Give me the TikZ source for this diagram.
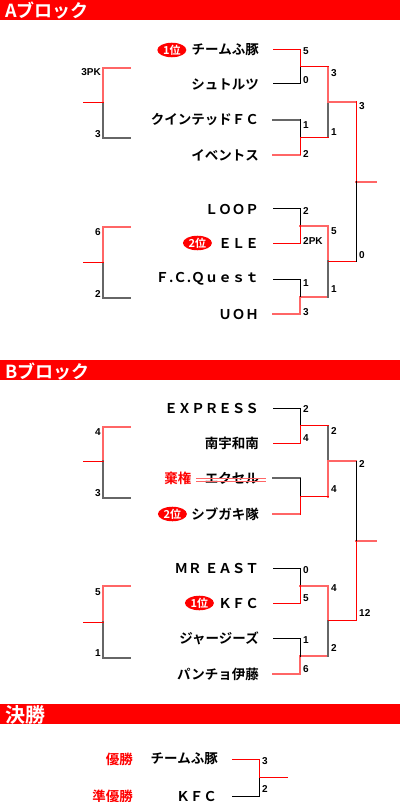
\documentclass[tikz,border=0pt]{standalone}
\usepackage{fontspec}
\usetikzlibrary{positioning,shapes.geometric}
\newfontfamily\jp{Noto Sans CJK JP}[BoldFont={Noto Sans CJK JP Bold}]
\newfontfamily\num{Liberation Sans}

\definecolor{cred}{RGB}{255,0,0}
\definecolor{cpink}{RGB}{255,102,102}
\definecolor{cgray}{RGB}{102,102,102}

\begin{document}
\begin{tikzpicture}[x=1pt,y=-1pt,line cap=rect,
        team/.style={anchor=east,inner sep=0pt,font={\jp\bfseries\fontsize{13.5}{14}\selectfont}},
        head/.style={anchor=base west,inner sep=0pt,text=white,font={\jp\bfseries\fontsize{18}{20}\selectfont}},
        rank/.style={ellipse,fill=cred,text=white,inner sep=0pt,minimum width=29pt,minimum height=14pt,
          font={\jp\bfseries\fontsize{11}{11}\selectfont}},
        score/.style={anchor=west,inner sep=0pt,font={\num\bfseries\fontsize{10}{10}\selectfont}},
        lscore/.style={score,anchor=east},
        wt/.style={draw=cred,line width=1pt},
        lt/.style={draw=black,line width=1pt},
        wk/.style={draw=cpink,line width=2pt},
        lk/.style={draw=cgray,line width=2pt}]
      \useasboundingbox (0,0) rectangle (400,802);
      \fill[cred] (0,0) rectangle (400,20);
      \fill[cred] (0,360) rectangle (400,380);
      \fill[cred] (0,704) rectangle (400,724);
      \node[head] (hA) at (5,18) {Aブロック};
      \node[head] (hB) at (5,378) {Bブロック};
      \node[head,font={\jp\bfseries\fontsize{20}{20}\selectfont}] (hF) at (5,722) {決勝};

      \foreach \n/\y/\t in {a1/50/チームふ豚, a2/84/シュトルツ, a3/120/クインテッドＦＣ, a4/155/イベントス,
          a5/209/ＬＯＯＰ, a6/243/ＥＬＥ, a7/279/Ｆ.Ｃ.Ｑｕｅｓｔ, a8/314/ＵＯＨ,
          b1/408/ＥＸＰＲＥＳＳ, b2/443/南宇和南, b3/478/エクセル, b4/514/シブガキ隊,
          b5/568/ＭＲ ＥＡＳＴ, b6/603/ＫＦＣ, b7/638/ジャージーズ, b8/674/パンチョ伊藤} {
        \node[team] (\n) at (259,\y) {\t};
        \coordinate (\n-s) at (273,\y);
        \coordinate (\n-v) at (300,\y);
      }
      \node[team] (f1) at (218,759) {チームふ豚};
      \node[team] (f2) at (217,796) {ＫＦＣ};
      \node[team,text=cred] (w1) at (133,759) {優勝};
      \node[team,text=cred] (w2) at (133,796) {準優勝};

      \node[rank,left=5pt of a1] (ra1) {1位};
      \node[rank,left=6pt of a6] (ra6) {2位};
      \node[rank,left=4pt of b4] (rb4) {2位};
      \node[rank,left=4pt of b6] (rb6) {1位};
      \node[team,text=cred,left=13pt of b3] (xb3) {棄権};
      \draw[draw=cpink,line width=1pt] ([xshift=-8pt]b3.west) -- ([xshift=6pt]b3.east);
      \draw[draw=cpink,line width=1pt] ([xshift=-8pt,yshift=-3pt]b3.west) -- ([xshift=6pt,yshift=-3pt]b3.east);

      \coordinate (ja1) at (300,67);    \coordinate (ja2) at (300,137.5);
      \coordinate (ja3) at (300,226);   \coordinate (ja4) at (300,296.5);
      \coordinate (ka1) at (328,102);   \coordinate (ka2) at (328,261);
      \coordinate (la) at (356,182);    \coordinate (ma) at (376,182);
      \coordinate (jb1) at (300,425.5); \coordinate (jb2) at (300,496.5);
      \coordinate (jb3) at (300,585.5); \coordinate (jb4) at (300,656);
      \coordinate (kb1) at (328,461);   \coordinate (kb2) at (328,620.5);
      \coordinate (lb) at (356,541);    \coordinate (mb) at (376,541);
      \foreach \k/\p/\q in {ka1/ja1/ja2, ka2/ja3/ja4, la/ka1/ka2, kb1/jb1/jb2, kb2/jb3/jb4, lb/kb1/kb2} {
        \coordinate (\k-t) at (\p -| \k);
        \coordinate (\k-b) at (\q -| \k);
      }
      \coordinate (f1-s) at (232,759); \coordinate (f1-v) at (259,759);
      \coordinate (f2-s) at (232,796); \coordinate (f2-v) at (259,796);
      \coordinate (jf) at (259,777.5); \coordinate (mf) at (287,777.5);

      \foreach \s/\p/\q in {wk/a4-s/a4-v, lk/a3-s/a3-v, wk/a8-s/a8-v, wk/a8-v/ja4,
          wk/ja3/ka2-t, wk/ka2-t/ka2, wk/ja4/ka2-b, lk/ka2-b/ka2, wk/ka1-t/ka1, lk/ka1-b/ka1,
          wk/ka1/la-t, wk/la/ma,
          lk/b3-s/b3-v, wk/b4-s/b4-v, wk/b8-s/b8-v, wk/b8-v/jb4,
          lk/kb1-t/kb1, wk/kb1-b/kb1, wk/jb3/kb2-t, wk/kb2-t/kb2, wk/jb4/kb2-b, lk/kb2-b/kb2,
          wk/kb1/lb-t, wk/lb/mb}
        \draw[\s] (\p) -- (\q);
      \foreach \s/\p/\q in {wt/a1-s/a1-v, wt/a1-v/ja1, lt/a2-s/a2-v, lt/a2-v/ja1, lt/a3-v/ja2, wt/a4-v/ja2,
          lt/a5-s/a5-v, lt/a5-v/ja3, wt/a6-s/a6-v, wt/a6-v/ja3, lt/a7-s/a7-v, lt/a7-v/ja4,
          wt/ja1/ka1-t, wt/ja2/ka1-b, wt/la-t/la, wt/ka2/la-b, lt/la-b/la,
          lt/b1-s/b1-v, lt/b1-v/jb1, wt/b2-s/b2-v, wt/b2-v/jb1, lt/b3-v/jb2, wt/b4-v/jb2,
          lt/b5-s/b5-v, lt/b5-v/jb3, wt/b6-s/b6-v, wt/b6-v/jb3, lt/b7-s/b7-v, lt/b7-v/jb4,
          wt/jb1/kb1-t, wt/jb2/kb1-b, lt/lb-t/lb, wt/kb2/lb-b, wt/lb-b/lb,
          wt/f1-s/f1-v, wt/f1-v/jf, lt/f2-s/f2-v, lt/f2-v/jf, wt/jf/mf}
        \draw[\s] (\p) -- (\q);

      \foreach \i/\t/\b/\m in {1/68/138/103, 2/227/298/262.5, 3/427/498/461, 4/586/658/622} {
        \coordinate (p\i-a) at (130,\t);
        \coordinate (p\i-t) at (103,\t);
        \coordinate (p\i-m) at (103,\m);
        \coordinate (p\i-b) at (103,\b);
        \coordinate (p\i-c) at (130,\b);
        \coordinate (p\i-s) at (83,\m);
        \draw[wk] (p\i-a) -- (p\i-t) -- (p\i-m);
        \draw[lk] (p\i-m) -- (p\i-b) -- (p\i-c);
        \draw[wt] (p\i-s) -- (p\i-m);
      }

      \foreach \y/\v [count=\i] in {72/3PK, 134/3, 232/6, 294/2, 432/4, 493/3, 592/5, 653/1}
        \node[lscore] (q\i) at (101,\y) {\v};
      \foreach \x/\y/\v [count=\i] in {303/51/5, 303/80/0, 303/125/1, 303/154/2, 331/73/3, 331/132/1, 359/106/3,
          303/211/2, 303/241/2PK, 303/283/1, 303/312/3, 331/231/5, 331/289/1, 359/255/0,
          303/409/2, 303/438/4, 331/431/2, 331/489/4, 359/464/2,
          303/570/0, 303/598/5, 303/640/1, 303/669/6, 331/588/4, 331/648/2, 359/613/12,
          262/761/3, 262/789/2}
        \node[score] (s\i) at (\x,\y) {\v};
    \end{tikzpicture}
\end{document}
